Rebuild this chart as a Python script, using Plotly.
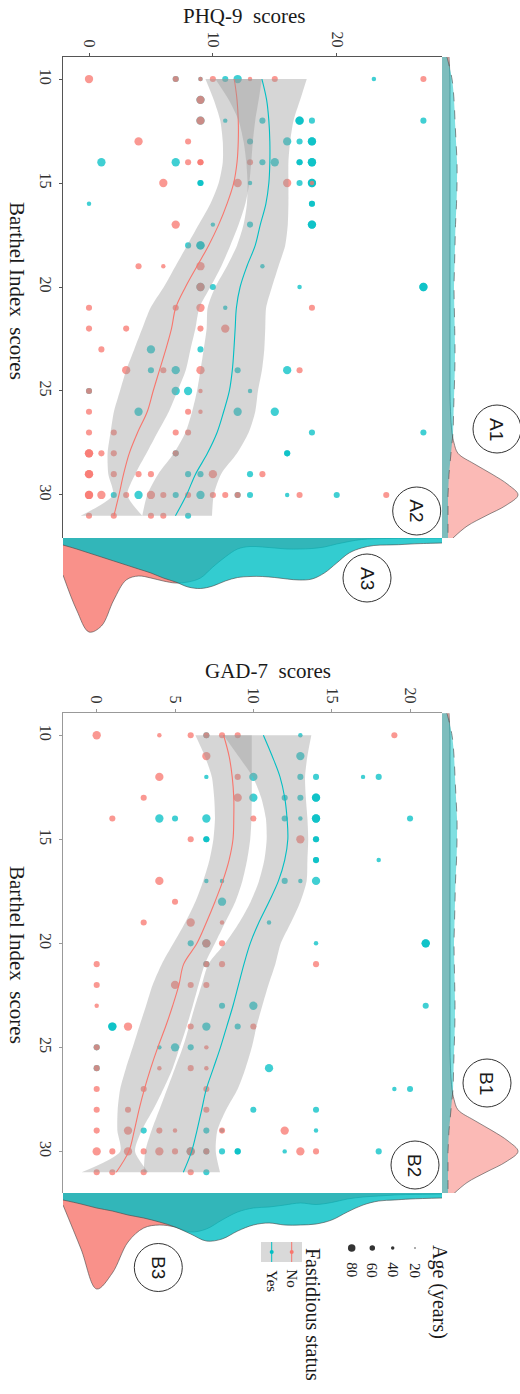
import plotly.graph_objects as go

W, H = 520, 1394
PINK = "#F8766D"
TEAL = "#00BFC4"

# ---------------- scatter data (Barthel, score, age) ----------------
A_NO_BARTHEL = [10, 10, 10, 10, 10, 10, 10, 11, 12, 13, 13, 14, 14, 14, 14, 15, 15, 15, 15, 17,
                19, 19, 19, 20, 21, 21, 21, 21, 22, 22, 22, 22, 23, 24, 24, 24, 24, 25, 25,
                26, 26, 26, 27, 27, 27, 27, 28, 28, 28, 28, 28, 29, 29, 29, 29, 29, 29, 29,
                30, 30, 30, 30, 30, 30, 30, 30, 30, 30, 30, 30, 31, 31, 31, 31]
A_NO_PHQ = [0, 7, 9, 10, 13, 15, 27, 9, 9, 4, 8, 8, 9, 9, 13, 6, 12, 16, 18, 7,
            4, 6, 9, 9, 0, 7, 9, 18, 0, 3, 9, 11, 1, 3, 6, 9, 17, 0, 9,
            0, 8, 9, 0, 2, 7, 8, 0, 0, 1, 2, 7, 0, 0, 2, 4, 5, 10, 14,
            0, 0, 1, 3, 5, 6, 8, 10, 11, 12, 17, 24, 0, 2, 5, 6]
A_NO_AGE = [80, 60, 45, 60, 45, 60, 60, 80, 80, 80, 60, 60, 60, 60, 60, 80, 80, 80, 45, 80,
            60, 45, 80, 80, 60, 60, 80, 60, 60, 60, 60, 80, 60, 80, 60, 80, 60, 60, 45,
            60, 60, 45, 60, 60, 60, 60, 80, 80, 60, 60, 60, 80, 80, 60, 60, 60, 80, 60,
            80, 80, 80, 60, 80, 60, 60, 60, 60, 60, 60, 60, 60, 60, 60, 60]

A_YES_BARTHEL = [10, 10, 10, 10, 10, 11, 12, 12, 12, 12, 12, 12, 12, 13, 13, 13, 13, 13,
                 14, 14, 14, 14, 14, 14, 14, 14, 15, 15, 15, 15, 15, 15, 16, 16, 16,
                 17, 17, 17, 17, 18, 18, 18, 19, 20, 20, 20, 20, 20, 21, 23, 23,
                 24, 24, 24, 24, 25, 25, 25, 25, 26, 26, 26, 27, 27, 28, 28, 28,
                 29, 29, 29, 30, 30, 30, 30, 30, 30, 30, 30, 31]
A_YES_PHQ = [7, 9, 11, 12, 23, 9, 9, 11, 14, 17, 17, 18, 27, 13, 16, 17, 18, 18,
             1, 7, 14, 15, 17, 17, 18, 18, 9, 9, 13, 17, 18, 18, 0, 18, 18,
             10, 13, 18, 18, 8, 9, 9, 14, 9, 10, 17, 27, 27, 11, 5, 9,
             5, 7, 12, 16, 0, 7, 8, 13, 4, 12, 15, 18, 27, 7, 16, 16,
             8, 9, 13, 2, 4, 7, 9, 12, 13, 16, 20, 8]
A_YES_AGE = [60, 45, 60, 80, 45, 80, 80, 45, 60, 80, 80, 60, 60, 60, 80, 60, 80, 80,
             80, 80, 60, 80, 60, 60, 80, 80, 60, 60, 45, 60, 80, 80, 45, 60, 60,
             45, 60, 80, 80, 60, 80, 80, 45, 80, 60, 45, 80, 80, 45, 80, 60,
             60, 80, 60, 80, 60, 80, 80, 45, 80, 80, 80, 60, 60, 60, 60, 60,
             60, 60, 60, 60, 80, 60, 80, 60, 60, 45, 60, 60]

B_NO_BARTHEL = [10, 10, 10, 10, 10, 10, 10, 11, 12, 12, 13, 13, 14, 14, 15, 15, 17, 18,
                19, 19, 19, 20, 20, 21, 21, 21, 21, 22, 22, 22, 22, 23, 24, 24, 24, 25, 25,
                26, 26, 26, 26, 27, 27, 27, 28, 28, 28, 29, 29, 29, 29, 29, 29,
                30, 30, 30, 30, 30, 30, 30, 30, 30, 30, 31, 31, 31, 31]
B_NO_GAD = [0, 4, 6, 7, 8, 9, 19, 7, 4, 9, 3, 9, 1, 10, 6, 13, 4, 5,
            3, 6, 8, 7, 8, 0, 7, 8, 14, 0, 5, 6, 7, 0, 2, 6, 10, 0, 7,
            0, 4, 6, 7, 0, 3, 7, 0, 2, 7, 0, 2, 4, 5, 8, 12,
            0, 1, 2, 3, 4, 5, 6, 7, 13, 14, 0, 1, 3, 6]
B_NO_AGE = [80, 45, 60, 60, 60, 60, 60, 80, 80, 60, 60, 80, 60, 60, 60, 80, 80, 60,
            60, 80, 45, 80, 60, 60, 60, 60, 60, 60, 80, 60, 60, 45, 80, 60, 60, 60, 45,
            60, 45, 60, 45, 60, 60, 60, 60, 60, 60, 60, 80, 60, 45, 60, 80,
            80, 60, 80, 60, 80, 60, 80, 60, 80, 60, 60, 60, 60, 60]

B_YES_BARTHEL = [10, 10, 11, 12, 12, 12, 12, 12, 12, 13, 13, 13, 13, 13,
                 14, 14, 14, 14, 14, 14, 14, 14, 15, 15, 15, 15, 16, 16, 16,
                 17, 17, 17, 17, 17, 18, 19, 20, 20, 20, 20, 20, 21, 23, 23, 23,
                 24, 24, 24, 24, 25, 25, 25, 25, 26, 26, 27, 27, 28, 28,
                 29, 29, 29, 29, 30, 30, 30, 30, 30, 30, 30, 31]
B_YES_GAD = [7, 13, 13, 7, 10, 13, 14, 17, 18, 10, 12, 13, 14, 14,
             4, 5, 7, 12, 13, 14, 14, 20, 7, 7, 14, 14, 14, 14, 18,
             7, 8, 12, 13, 14, 8, 11, 6, 7, 14, 21, 21, 7, 8, 10, 21,
             1, 1, 7, 9, 0, 4, 5, 6, 0, 11, 19, 20, 10, 14,
             3, 7, 8, 14, 6, 7, 8, 9, 9, 12, 18, 7]
B_YES_AGE = [60, 45, 80, 45, 80, 60, 60, 45, 60, 80, 60, 60, 80, 80,
             80, 60, 80, 60, 45, 80, 80, 60, 60, 60, 60, 60, 60, 60, 45,
             45, 45, 60, 45, 80, 80, 45, 60, 80, 45, 80, 80, 60, 60, 80, 60,
             80, 80, 80, 60, 60, 45, 80, 60, 60, 80, 45, 60, 60, 60,
             60, 60, 45, 45, 80, 60, 60, 60, 60, 45, 60, 60]

# ---------------- loess fits with confidence bands ----------------
FIT_B = [10, 11, 12, 13, 14, 15, 16, 17, 18, 19, 20, 21, 22, 23, 24, 25, 26, 27, 28, 29, 30, 31]

A_NO_FIT = [11.73, 11.95, 12.05, 12.05, 11.95, 11.68, 11.14, 10.47, 9.66, 8.72, 7.79,
            7.0, 6.66, 6.2, 5.69, 5.18, 4.7, 3.92, 3.25, 2.79, 2.42, 2.01]
A_NO_LO = [9.4, 10.07, 10.6, 10.8, 10.8, 10.47, 9.8, 8.86, 7.92, 6.98, 6.04,
           4.97, 4.3, 3.65, 3.0, 2.5, 2.01, 1.74, 1.5, 1.56, 1.93, -0.67]
A_NO_HI = [13.96, 13.7, 13.42, 13.23, 13.1, 12.94, 12.62, 12.08, 11.41, 10.68, 9.8,
           8.91, 8.59, 8.19, 7.81, 7.14, 6.44, 5.53, 4.64, 3.73, 3.09, 4.3]
A_YES_FIT = [13.96, 14.34, 14.52, 14.6, 14.6, 14.52, 14.28, 13.83, 13.42, 12.75, 12.2,
             11.9, 11.8, 11.7, 11.57, 11.33, 10.87, 10.34, 9.56, 8.6, 7.87, 6.98]
A_YES_LO = [10.2, 11.28, 12.08, 12.48, 12.7, 12.8, 12.75, 12.48, 11.95, 11.14, 10.2,
            9.58, 9.5, 9.26, 9.0, 8.72, 8.32, 7.79, 6.85, 5.58, 4.7, 4.3]
A_YES_HI = [17.58, 17.05, 16.51, 16.24, 16.1, 16.1, 16.1, 16.05, 15.84, 15.3, 14.77,
            14.3, 14.23, 14.15, 13.96, 13.64, 13.42, 12.89, 11.95, 10.66, 10.07, 9.93]

B_NO_FIT = [8.1, 8.45, 8.65, 8.75, 8.75, 8.7, 8.45, 8.05, 7.55, 7.0, 6.4,
            5.55, 5.25, 4.85, 4.4, 3.9, 3.45, 3.05, 2.7, 2.4, 2.05, 1.25]
B_NO_LO = [6.3, 6.9, 7.35, 7.5, 7.55, 7.45, 7.2, 6.8, 6.3, 5.65, 4.9,
           4.15, 3.57, 3.15, 2.72, 2.3, 1.87, 1.5, 1.34, 1.32, 1.5, -0.96]
B_NO_HI = [9.9, 9.9, 9.9, 9.9, 9.88, 9.8, 9.6, 9.3, 8.85, 8.2, 7.55,
           6.9, 6.5, 6.13, 5.74, 5.3, 4.85, 4.26, 3.6, 2.87, 2.45, 3.3]
B_YES_FIT = [10.64, 11.2, 11.7, 12.0, 12.15, 12.2, 12.0, 11.6, 11.0, 10.35, 9.8,
             9.4, 9.05, 8.7, 8.3, 7.9, 7.45, 7.0, 6.7, 6.4, 6.06, 5.53]
B_YES_LO = [8.1, 9.04, 9.96, 10.5, 10.8, 10.85, 10.7, 10.36, 9.83, 9.1, 8.2,
            7.13, 6.7, 6.28, 5.9, 5.5, 5.0, 4.5, 4.0, 3.5, 3.1, 3.0]
B_YES_HI = [13.7, 13.45, 13.3, 13.35, 13.45, 13.5, 13.45, 13.4, 13.0, 12.4, 11.75,
            11.4, 10.96, 10.57, 10.2, 9.9, 9.5, 9.0, 8.26, 7.7, 7.6, 7.87]

# ---------------- marginal densities (relative heights) ----------------
DENS_BARTHEL = [8.94, 10, 11, 12, 13, 14, 15, 16, 17, 18, 19, 20, 21, 22, 23, 24, 25, 26, 27,
                27.5, 28, 28.5, 29, 29.5, 30, 30.5, 31, 31.5, 32.07]
DENS_BARTHEL_YES = [5, 10, 12, 13, 14, 15, 15, 14.5, 13.5, 13, 12.5, 12, 12.3, 12.7, 13, 12.8,
                    12.2, 11.6, 11, 10, 9, 8, 7, 6.5, 6, 6, 6, 6, 6]
DENS_BARTHEL_NO = [7, 8, 8, 8, 8, 8, 8, 8, 8, 8, 8, 8, 8, 8, 8, 8, 8, 8.5, 10,
                   12, 16, 32, 50, 66, 76, 64, 44, 25, 11]

DENS_PHQ = [-2.1, -1, 0, 1, 2, 3, 4, 5, 6, 7, 8, 9, 10, 11, 12, 13, 14, 15, 16, 17, 18,
            19, 20, 21, 22, 23, 24, 25, 26, 27, 28.5]
DENS_PHQ_NO = [37, 72, 94, 88, 62, 42, 38, 40, 43, 45, 44, 40, 29, 19, 11, 8.5, 9, 10, 11, 11,
               10.5, 9, 6, 3.5, 1.5, 0.8, 0.5, 0.3, 0.2, 0.1, 0]
DENS_PHQ_YES = [7, 11, 15, 19, 23, 27, 31, 35, 40, 44, 49, 50.5, 48, 43, 39.5, 38.5, 38.5,
                39.5, 41, 42, 41, 35, 25, 15, 10, 7.5, 7, 6.7, 6, 5.5, 5]

DENS_GAD = [-2.15, -1, 0, 1, 2, 3, 4, 5, 6, 7, 8, 9, 10, 11, 12, 13, 14, 15, 16, 17, 18,
            19, 20, 22.04]
DENS_GAD_NO = [12, 56, 96, 80, 49, 35, 32, 34, 39, 36, 27, 19, 15, 14, 12, 10, 11.5, 9.5,
               6, 4, 3, 2, 1.5, 1]
DENS_GAD_YES = [7, 11, 15, 18, 22, 25, 29, 34, 41, 48, 46, 38, 32, 30, 32, 32, 31, 27,
                19, 12, 8, 7, 6, 5]

PHQ_TICKS = [0, 10, 20]
GAD_TICKS = [0, 5, 10, 15, 20]
BARTHEL_TICKS = [10, 15, 20, 25, 30]
LEGEND_AGES = [20, 40, 60, 80]

for a, b, c in [(A_NO_BARTHEL, A_NO_PHQ, A_NO_AGE), (A_YES_BARTHEL, A_YES_PHQ, A_YES_AGE),
                (B_NO_BARTHEL, B_NO_GAD, B_NO_AGE), (B_YES_BARTHEL, B_YES_GAD, B_YES_AGE)]:
    assert len(a) == len(b) == len(c), (len(a), len(b), len(c))


def px(p):
    return p / W


def py(p):
    return 1 - p / H


def age_size(a):
    return a * 0.11 - 0.5


fig = go.Figure()


def add_points(xa, ya, barthel, score, age, color):
    fig.add_trace(go.Scatter(
        x=score, y=barthel, mode="markers", xaxis=xa, yaxis=ya, hoverinfo="skip",
        marker=dict(color=color, size=[age_size(v) for v in age], opacity=0.75,
                    line=dict(width=0))))


def add_smooth(xa, ya, lo, hi, fit, color):
    fig.add_trace(go.Scatter(x=lo, y=FIT_B, mode="lines", xaxis=xa, yaxis=ya, hoverinfo="skip",
                             line=dict(width=0, shape="spline", smoothing=0.7)))
    fig.add_trace(go.Scatter(x=hi, y=FIT_B, mode="lines", xaxis=xa, yaxis=ya, hoverinfo="skip",
                             fill="tonextx", fillcolor="rgba(153,153,153,0.4)",
                             line=dict(width=0, shape="spline", smoothing=0.7)))
    fig.add_trace(go.Scatter(x=fit, y=FIT_B, mode="lines", xaxis=xa, yaxis=ya, hoverinfo="skip",
                             line=dict(color=color, width=1.1, shape="spline")))


def add_side_density(xa, ya, grid, dens, fillc, dash):
    fig.add_trace(go.Scatter(x=dens, y=grid, mode="lines", xaxis=xa, yaxis=ya, hoverinfo="skip",
                             fill="tozerox", fillcolor=fillc,
                             line=dict(color="#444", width=0.6, dash=dash, shape="spline")))


def add_bottom_density(xa, ya, grid, dens, fillc, dash):
    fig.add_trace(go.Scatter(x=grid, y=dens, mode="lines", xaxis=xa, yaxis=ya, hoverinfo="skip",
                             fill="tozeroy", fillcolor=fillc,
                             line=dict(color="#444", width=0.6, dash=dash, shape="spline")))


# Panel A
add_points("x", "y", A_YES_BARTHEL, A_YES_PHQ, A_YES_AGE, TEAL)
add_points("x", "y", A_NO_BARTHEL, A_NO_PHQ, A_NO_AGE, PINK)
add_smooth("x", "y", A_NO_LO, A_NO_HI, A_NO_FIT, PINK)
add_smooth("x", "y", A_YES_LO, A_YES_HI, A_YES_FIT, TEAL)
# Panel B
add_points("x2", "y2", B_YES_BARTHEL, B_YES_GAD, B_YES_AGE, TEAL)
add_points("x2", "y2", B_NO_BARTHEL, B_NO_GAD, B_NO_AGE, PINK)
add_smooth("x2", "y2", B_NO_LO, B_NO_HI, B_NO_FIT, PINK)
add_smooth("x2", "y2", B_YES_LO, B_YES_HI, B_YES_FIT, TEAL)

# marginals
add_side_density("x3", "y", DENS_BARTHEL, DENS_BARTHEL_NO, "rgba(248,118,109,0.5)", "solid")
add_side_density("x3", "y", DENS_BARTHEL, DENS_BARTHEL_YES, "rgba(0,191,196,0.5)", "dash")
add_side_density("x4", "y2", DENS_BARTHEL, DENS_BARTHEL_NO, "rgba(248,118,109,0.5)", "solid")
add_side_density("x4", "y2", DENS_BARTHEL, DENS_BARTHEL_YES, "rgba(0,191,196,0.5)", "dash")
add_bottom_density("x", "y3", DENS_PHQ, DENS_PHQ_NO, "rgba(248,118,109,0.8)", "solid")
add_bottom_density("x", "y3", DENS_PHQ, DENS_PHQ_YES, "rgba(0,191,196,0.8)", "solid")
add_bottom_density("x2", "y4", DENS_GAD, DENS_GAD_NO, "rgba(248,118,109,0.8)", "solid")
add_bottom_density("x2", "y4", DENS_GAD, DENS_GAD_YES, "rgba(0,191,196,0.8)", "solid")

tickfont = dict(family="Liberation Serif", size=16, color="#333333")


def main_axis(color, **kw):
    d = dict(showgrid=False, zeroline=False, showline=True, linecolor=color, linewidth=1,
             ticks="outside", ticklen=3, tickcolor=color, tickangle=90, tickfont=tickfont)
    d.update(kw)
    return d


PX0, PX1 = px(63), px(442)
fig.update_layout(
    width=W, height=H, margin=dict(l=0, r=0, t=0, b=0), autosize=False,
    paper_bgcolor="white", plot_bgcolor="white", showlegend=False,
    font=dict(family="Liberation Serif"),
    xaxis=main_axis("#555555", domain=[PX0, PX1], range=[-2.1, 28.5], anchor="y", side="top",
                    tickvals=PHQ_TICKS),
    yaxis=main_axis("#555555", domain=[py(538), py(57)], range=[32.07, 8.94], anchor="x",
                    tickvals=BARTHEL_TICKS),
    xaxis2=main_axis("#999999", domain=[PX0, PX1], range=[-2.15, 22.04], anchor="y2", side="top",
                     tickvals=GAD_TICKS),
    yaxis2=main_axis("#999999", domain=[py(1193), py(713)], range=[32.0, 8.93], anchor="x2",
                     tickvals=BARTHEL_TICKS),
    xaxis3=dict(domain=[PX1, 1], range=[0, 78], anchor="y", visible=False),
    xaxis4=dict(domain=[PX1, 1], range=[0, 78], anchor="y2", visible=False),
    yaxis3=dict(domain=[py(645), py(538)], range=[107, 0], anchor="x", visible=False),
    yaxis4=dict(domain=[py(1300), py(1193)], range=[107, 0], anchor="x2", visible=False),
)

NB = "\u00a0"
ann = []


def text(x, y, s, size, angle=0, family="Liberation Serif"):
    ann.append(dict(x=px(x), y=py(y), xref="paper", yref="paper", text=s, showarrow=False,
                    textangle=angle, xanchor="center", yanchor="middle",
                    font=dict(family=family, size=size, color="#1a1a1a")))


text(244, 16, "PHQ-9" + NB + NB + "scores", 21)
text(268, 671, "GAD-7" + NB + NB + "scores", 21)
text(17, 291, "Barthel Index" + NB + NB + "scores", 21, 90)
text(17, 955, "Barthel Index" + NB + NB + "scores", 21, 90)

shapes = []
for lab, cx, cy in [("A1", 497, 429), ("A2", 416.7, 511), ("A3", 367, 578),
                    ("B1", 487, 1083), ("B2", 415, 1165), ("B3", 158.3, 1267.5)]:
    r = 24
    shapes.append(dict(type="circle", xref="paper", yref="paper", x0=px(cx - r), x1=px(cx + r),
                       y0=py(cy + r), y1=py(cy - r), line=dict(color="#333", width=1)))
    text(cx, cy, lab, 19, 90, "Liberation Sans")

# legend: Age
text(440, 1292, "Age (years)", 20, 90)
for age, cx in zip(LEGEND_AGES, [415, 392.7, 372.3, 351.7]):
    d = age_size(age) * 0.9
    shapes.append(dict(type="circle", xref="paper", yref="paper", x0=px(cx - d / 2), x1=px(cx + d / 2),
                       y0=py(1248 + d / 2), y1=py(1248 - d / 2), fillcolor="#333", line=dict(width=0)))
    text(cx, 1270, str(age), 15, 90)

# legend: Fastidious status
text(313, 1314, "Fastidious status", 20, 90)
shapes.append(dict(type="rect", xref="paper", yref="paper", x0=px(261), x1=px(302),
                   y0=py(1262), y1=py(1242), fillcolor="#D9D9D9", line=dict(width=0)))
for cx, col, lab, ly in [(291.7, PINK, "No", 1278), (271.7, TEAL, "Yes", 1281)]:
    shapes.append(dict(type="line", xref="paper", yref="paper", x0=px(cx), x1=px(cx),
                       y0=py(1262), y1=py(1242), line=dict(color=col, width=1)))
    shapes.append(dict(type="circle", xref="paper", yref="paper", x0=px(cx - 2), x1=px(cx + 2),
                       y0=py(1254), y1=py(1250), fillcolor=col, line=dict(width=0)))
    text(cx, ly, lab, 15, 90)

fig.update_layout(annotations=ann, shapes=shapes)
fig.write_html("out.html", config={"displayModeBar": False},
               post_script="document.body.style.margin='0';document.body.style.overflow='hidden';")
